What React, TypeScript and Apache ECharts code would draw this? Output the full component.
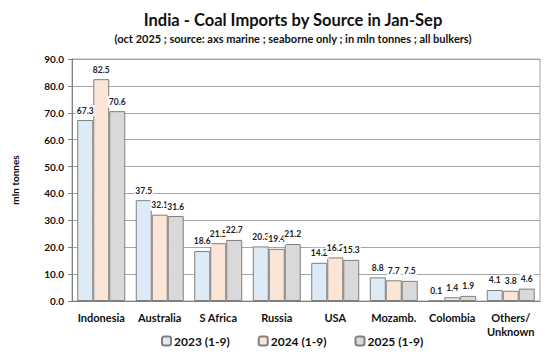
import React, { useEffect, useRef } from "react";
import * as echarts from "echarts";

const categories = ["Indonesia", "Australia", "S Africa", "Russia", "USA", "Mozamb.", "Colombia", "Others/\nUnknown"];
const seriesNames = ["2023 (1-9)", "2024 (1-9)", "2025 (1-9)"];
const values2023 = [67.3, 37.5, 18.6, 20.3, 14.2, 8.8, 0.1, 4.1];
const values2024 = [82.5, 32.1, 21.5, 19.4, 16.2, 7.7, 1.4, 3.8];
const values2025 = [70.6, 31.6, 22.7, 21.2, 15.3, 7.5, 1.9, 4.6];
const colors = ["#deebf7", "#fbe5d6", "#d9d9d9"];

const FONT = "Lato, 'Open Sans', sans-serif";

export default function App() {
  const ref = useRef<HTMLDivElement>(null);
  useEffect(() => {
    if (!ref.current) return;
    const chart = echarts.init(ref.current, undefined, { renderer: "svg" });
    const all = [values2023, values2024, values2025];
    chart.setOption({
      animation: false,
      backgroundColor: "#ffffff",
      textStyle: { fontFamily: FONT },
      title: {
        text: "India - Coal Imports by Source in Jan-Sep",
        subtext: "(oct 2025 ; source: axs marine ; seaborne only ; in mln tonnes ; all bulkers)",
        left: 288,
        textAlign: "center",
        top: 6,
        itemGap: 5,
        textStyle: { fontFamily: FONT, fontSize: 16.5, fontWeight: "bold", color: "#111" },
        subtextStyle: { fontFamily: FONT, fontSize: 11, fontWeight: "bold", color: "#111" },
      },
      legend: {
        bottom: 6,
        left: 156,
        itemWidth: 9,
        itemHeight: 9,
        itemGap: 28,
        data: seriesNames,
        textStyle: { fontFamily: FONT, fontSize: 12, fontWeight: "bold", color: "#111", padding: [0, 0, 0, -2] },
      },
      grid: {
        left: 72,
        right: 14,
        top: 59,
        bottom: 57,
        show: true,
        borderColor: "#a6a6a6",
        borderWidth: 1,
      },
      xAxis: {
        type: "category",
        data: categories,
        axisLine: { lineStyle: { color: "#7f7f7f", width: 1 } },
        axisTick: { show: false },
        axisLabel: { interval: 0, fontFamily: FONT, fontSize: 11, fontWeight: "bold", color: "#111", margin: 9, lineHeight: 14 },
      },
      yAxis: {
        type: "value",
        min: 0,
        max: 90,
        interval: 10,
        name: "mln tonnes",
        nameLocation: "middle",
        nameRotate: 90,
        nameGap: 52,
        nameTextStyle: { fontFamily: FONT, fontSize: 10, fontWeight: "bold", color: "#111" },
        axisLine: { show: true, lineStyle: { color: "#7f7f7f", width: 1 } },
        axisTick: { show: true, length: 4, lineStyle: { color: "#7f7f7f" } },
        axisLabel: {
          fontFamily: FONT,
          fontSize: 10,
          fontWeight: "bold",
          color: "#111",
          margin: 8,
          formatter: (v: number) => v.toFixed(1),
        },
        splitLine: { lineStyle: { color: "#a6a6a6", width: 1 } },
      },
      series: seriesNames.map((name, i) => ({
        name,
        type: "bar",
        data: all[i],
        barGap: "0%",
        barCategoryGap: "18%",
        itemStyle: { color: colors[i], borderColor: "#7f7f7f", borderWidth: 1 },
        label: {
          show: true,
          position: "top",
          distance: 4,
          fontFamily: FONT,
          fontSize: 8.5,
          fontWeight: "bold",
          color: "#222",
          backgroundColor: "#ffffff",
          padding: [1, 1, 1, 1],
          formatter: (p: any) => Number(p.value).toFixed(1),
        },
      })),
    });
    return () => chart.dispose();
  }, []);
  return <div ref={ref} style={{ width: 554, height: 358, position: "absolute", left: 0, top: 0 }} />;
}
